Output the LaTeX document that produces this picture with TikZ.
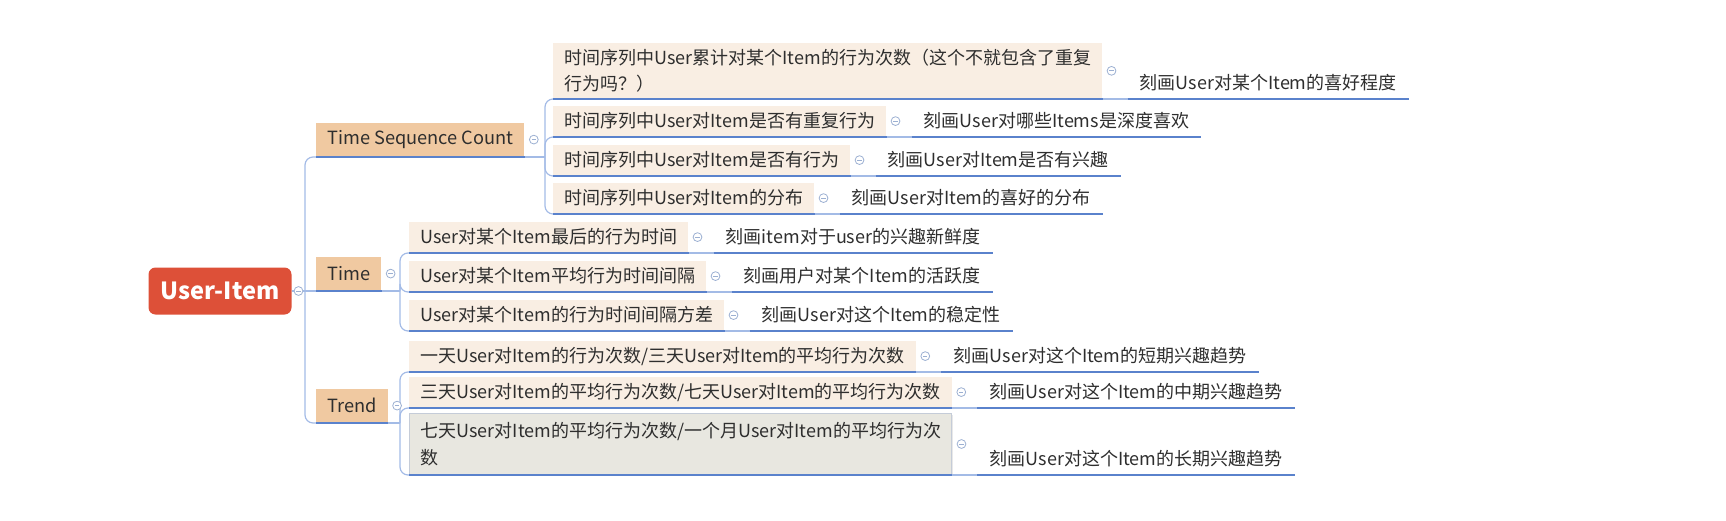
\documentclass[tikz,border=0pt]{standalone}
\usepackage{fontspec}
\setmainfont{Noto Sans CJK SC}
\usetikzlibrary{positioning, shadows}
\definecolor{rootred}{HTML}{DD5038}
\definecolor{topictan}{HTML}{F0C9A1}
\definecolor{subbeige}{HTML}{F9EEE3}
\definecolor{selgray}{HTML}{E8E7E0}
\definecolor{selborder}{HTML}{C5CCD8}
\definecolor{inkgray}{HTML}{2E2E2E}
\definecolor{lineblue}{HTML}{5A82CC}
\definecolor{connblue}{HTML}{A3BBE6}
\definecolor{foldgray}{HTML}{9CB0D2}

\begin{document}
\begin{tikzpicture}[x=0.5pt, y=-0.5pt,
  root/.style={rectangle, fill=rootred, rounded corners=3.5pt, text=white, font=\bfseries\fontsize{11.8}{14}\selectfont, minimum width=71.5pt, minimum height=23.5pt},
  topic/.style={rectangle, fill=topictan, text=inkgray, font=\fontsize{9.1}{12}\selectfont, inner xsep=5.5pt, minimum height=17pt, anchor=south west},
  sub/.style={rectangle, fill=subbeige, text=inkgray, font=\fontsize{9}{13.2}\selectfont, inner xsep=5.5pt, inner ysep=3pt, minimum height=15.5pt, align=left, anchor=south west},
  sel/.style={sub, fill=selgray, draw=selborder, line width=0.5pt, minimum height=30.5pt, drop shadow={opacity=0.18, shadow xshift=0.6pt, shadow yshift=-0.6pt}},
  leaf/.style={rectangle, text=inkgray, font=\fontsize{9}{13.2}\selectfont, inner xsep=6pt, inner ysep=3pt, minimum height=15.5pt, anchor=south west},
  ul/.style={line width=1pt, draw=lineblue},
  conn/.style={line width=0.6pt, draw=connblue, rounded corners=4pt},
  fold/.style={circle, draw=foldgray, fill=white, line width=0.4pt, minimum size=4.4pt, inner sep=0pt,
    path picture={\draw[foldgray, line width=0.4pt] ([xshift=-1.1pt]path picture bounding box.center) -- ([xshift=1.1pt]path picture bounding box.center);}}
]
  \useasboundingbox (0,0) rectangle (1726,520);

  % root and main topics
  \node[root] (useritem) at (220,291) {User-Item};
  \node[topic] (tsc)   at (316,157) {Time Sequence Count};
  \node[topic] (time)  at (316,291) {Time};
  \node[topic] (trend) at (316,423) {Trend};

  % Time Sequence Count
  \node[sub] (tsc1) at (553,99)  {时间序列中User累计对某个Item的行为次数（这个不就包含了重复\\行为吗？）};
  \node[sub] (tsc2) at (553,137) {时间序列中User对Item是否有重复行为};
  \node[sub] (tsc3) at (553,176) {时间序列中User对Item是否有行为};
  \node[sub] (tsc4) at (553,214) {时间序列中User对Item的分布};
  \node[leaf] (tsc1l) at ([xshift=12.5pt]tsc1.south east) {刻画User对某个Item的喜好程度};
  \node[leaf] (tsc2l) at ([xshift=12.5pt]tsc2.south east) {刻画User对哪些Items是深度喜欢};
  \node[leaf] (tsc3l) at ([xshift=12.5pt]tsc3.south east) {刻画User对Item是否有兴趣};
  \node[leaf] (tsc4l) at ([xshift=12.5pt]tsc4.south east) {刻画User对Item的喜好的分布};

  % Time
  \node[sub] (time1) at (409,253) {User对某个Item最后的行为时间};
  \node[sub] (time2) at (409,292) {User对某个Item平均行为时间间隔};
  \node[sub] (time3) at (409,331) {User对某个Item的行为时间间隔方差};
  \node[leaf] (time1l) at ([xshift=12.5pt]time1.south east) {刻画item对于user的兴趣新鲜度};
  \node[leaf] (time2l) at ([xshift=12.5pt]time2.south east) {刻画用户对某个Item的活跃度};
  \node[leaf] (time3l) at ([xshift=12.5pt]time3.south east) {刻画User对这个Item的稳定性};

  % Trend
  \node[sub] (trend1) at (409,372) {一天User对Item的行为次数/三天User对Item的平均行为次数};
  \node[sub] (trend2) at (409,408) {三天User对Item的平均行为次数/七天User对Item的平均行为次数};
  \node[sel] (trend3) at (409,475) {七天User对Item的平均行为次数/一个月User对Item的平均行为次\\数};
  \node[leaf] (trend1l) at ([xshift=12.5pt]trend1.south east) {刻画User对这个Item的短期兴趣趋势};
  \node[leaf] (trend2l) at ([xshift=12.5pt]trend2.south east) {刻画User对这个Item的中期兴趣趋势};
  \node[leaf] (trend3l) at ([xshift=12.5pt]trend3.south east) {刻画User对这个Item的长期兴趣趋势};

  % connectors
  \coordinate (rootfork)  at (305,291);
  \coordinate (tscfork)   at (545,157);
  \coordinate (timefork)  at (400,291);
  \coordinate (trendfork) at (400,423);
  \draw[conn] (useritem) -- (rootfork) -- (time.south west);
  \draw[conn] (rootfork) |- (tsc.south west);
  \draw[conn] (rootfork) |- (trend.south west);
  \draw[conn] (tsc.south east) -- (tscfork);
  \draw[conn] (time.south east) -- (timefork);
  \draw[conn] (trend.south east) -- (trendfork);
  \foreach \n in {tsc1,tsc2,tsc3,tsc4}
    \draw[conn] (tscfork) |- (\n.south west);
  \foreach \n in {time1,time2,time3}
    \draw[conn] (timefork) |- (\n.south west);
  \foreach \n in {trend1,trend2,trend3}
    \draw[conn] (trendfork) |- (\n.south west);
  \foreach \n in {tsc1,tsc2,tsc3,tsc4,time1,time2,time3,trend1,trend2,trend3}
    \draw[conn] (\n.south east) -- (\n l.south west);

  % underlines
  \foreach \n in {tsc,time,trend}
    \draw[ul] (\n.south west) -- (\n.south east);
  \foreach \n in {tsc1,tsc2,tsc3,tsc4,time1,time2,time3,trend1,trend2,trend3}{
    \draw[ul] (\n.south west) -- (\n.south east);
    \draw[ul] (\n l.south west) -- (\n l.south east);
  }

  % fold marks
  \node[fold] (useritemf) at ([xshift=3.3pt]useritem.east) {};
  \foreach \n in {tsc,time,trend,tsc1,tsc2,tsc3,tsc4,time1,time2,time3,trend1,trend2,trend3}
    \node[fold] (\n f) at ([xshift=4.5pt]\n.east) {};
\end{tikzpicture}
\end{document}
